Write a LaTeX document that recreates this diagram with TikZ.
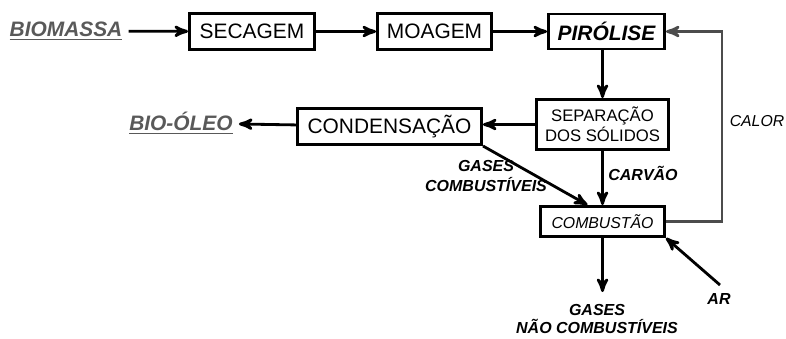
\documentclass[tikz,border=0pt]{standalone}
\usepackage{fontspec}
\setmainfont{Liberation Sans}
\usetikzlibrary{arrows, positioning}

\begin{document}
\begin{tikzpicture}
  [x=0.02cm, y=-0.02cm,
   etapa/.style={rectangle, draw, line width=1.7pt, inner sep=0pt,
                 font=\fontsize{11.9}{14}\selectfont},
   produto/.style={text=black!65, font=\fontsize{11.9}{14}\selectfont\bfseries\itshape},
   rotulo/.style={align=center, font=\fontsize{9.1}{11.3}\selectfont\bfseries\itshape},
   pre/.style={<-,>=stealth',line width=1.6pt},
   fluxo/.style={->,>=stealth',line width=1.6pt},
   fluxocalor/.style={->,>=stealth',line width=1.6pt,draw=black!70}]

  \useasboundingbox (0,0) rectangle (786,338);

  % Linha principal
  \node (biomassa) at (66,31) [produto] {\underline{BIOMASSA}};
  \node (secagem) at (252,31.5) [etapa, minimum width=2.5cm, minimum height=0.72cm] {SECAGEM}
    edge [pre] (biomassa);
  \node (moagem) at (434.5,31.5) [etapa, minimum width=2.28cm, minimum height=0.72cm] {MOAGEM}
    edge [pre] (secagem);
  \node (pirolise) at (606.5,31.5) [etapa, minimum width=2.32cm, minimum height=0.70cm,
      font=\fontsize{11.9}{14}\selectfont\bfseries\itshape] {PIRÓLISE}
    edge [pre] (moagem);

  % Separacao e condensacao
  \node (separacao) at (602.5,124.5) [etapa, minimum width=2.64cm, minimum height=1.0cm,
      align=center, font=\fontsize{9.5}{10.2}\selectfont] {SEPARAÇÃO\\DOS SÓLIDOS};
  \node (condensacao) at (389.5,126.5) [etapa, minimum width=3.68cm, minimum height=0.72cm] {CONDENSAÇÃO};
  \node (biooleo) at (181,123) [produto] {\underline{BIO-ÓLEO}}
    edge [pre] (condensacao);
  \draw [fluxo] (separacao.north |- pirolise.south) -- (separacao.north);
  \draw [fluxo] (separacao.west) -- (separacao.west -| condensacao.east);

  % Combustao
  \node (combustao) at (602.5,221.5) [etapa, minimum width=2.48cm, minimum height=0.6cm,
      font=\fontsize{9}{11}\selectfont\itshape] {COMBUSTÃO}
    edge [pre] (separacao);
  \draw [fluxo] (condensacao.south east) -- ([xshift=-0.3cm]combustao.north);
  \node (carvao) at (643,173) [rotulo] {CARVÃO};
  \node (gasescomb) at (486,176) [rotulo] {GASES\\COMBUSTÍVEIS};

  % Calor de volta para a pirolise
  \coordinate (retorno) at (722,31.5);
  \draw [fluxocalor] (combustao.east) -| (retorno) -- (pirolise.east);
  \node (calor) at (757,121) [font=\fontsize{9}{11}\selectfont\itshape] {CALOR};

  % Saidas e entrada de ar
  \coordinate (saida) at (602.5,292);
  \draw [fluxo] (combustao.south) -- (saida);
  \node (gasesnao) at (597,319) [rotulo, font=\fontsize{9.1}{10.8}\selectfont\bfseries\itshape] {GASES\\NÃO COMBUSTÍVEIS};
  \coordinate (entradaar) at (720,285);
  \draw [fluxo] (entradaar) -- (combustao.south east);
  \node (ar) at (719,299) [rotulo] {AR};

\end{tikzpicture}
\end{document}
